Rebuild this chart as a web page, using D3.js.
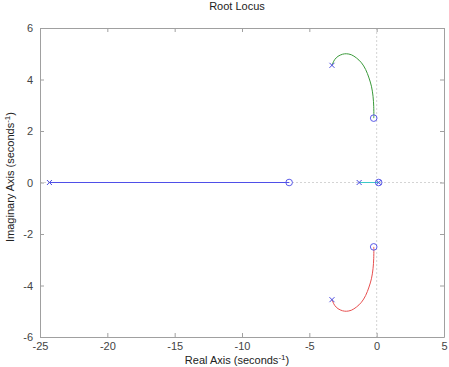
<!DOCTYPE html>
<html lang="en">
<head>
    <meta charset="UTF-8">
    <title>Root Locus</title>
    <script src="https://d3js.org/d3.v7.min.js"></script>
    <style>
        body { margin: 0; padding: 0; background: #fff; font-family: "Liberation Sans", Arial, sans-serif; }
        svg { display: block; }
        .tick text { fill: #444; font-size: 11px; }
    </style>
</head>
<body>
<svg id="chart" width="449" height="367"></svg>
<script>
    // axis limits and ticks
    const xTicks = [-25, -20, -15, -10, -5, 0, 5];
    const yTicks = [-6, -4, -2, 0, 2, 4, 6];

    // poles (x) and zeros (o) as [real, imag]
    const poles = [[-24.3, 0], [-1.3, 0], [0.15, 0], [-3.32, 4.55], [-3.32, -4.55]];
    const zeros = [[-6.5, 0], [0.15, 0], [-0.22, 2.5], [-0.22, -2.5]];

    // locus branches
    const branchBlue = [[-24.3, 0], [-6.5, 0]];
    const branchCyan = [[-1.3, 0], [0.15, 0]];
    const branchGreen = [
        [-3.32, 4.55], [-3.12, 4.77], [-2.87, 4.90], [-2.54, 4.98], [-2.25, 5.00],
        [-1.88, 4.96], [-1.51, 4.84], [-1.13, 4.65], [-0.82, 4.39], [-0.57, 4.06],
        [-0.39, 3.74], [-0.27, 3.35], [-0.22, 2.96], [-0.21, 2.60], [-0.22, 2.50]
    ];
    const branchRed = [
        [-3.32, -4.55], [-3.12, -4.77], [-2.87, -4.90], [-2.54, -4.98], [-2.25, -5.00],
        [-1.88, -4.96], [-1.51, -4.84], [-1.13, -4.65], [-0.82, -4.39], [-0.57, -4.06],
        [-0.39, -3.74], [-0.27, -3.35], [-0.22, -2.96], [-0.21, -2.60], [-0.22, -2.50]
    ];

    const svg = d3.select("#chart"),
        margin = { top: 28, right: 5, bottom: 30, left: 40 },
        width = 449 - margin.left - margin.right,
        height = 367 - margin.top - margin.bottom;

    const x = d3.scaleLinear().domain([-25, 5]).range([0, width]),
        y = d3.scaleLinear().domain([-6, 6]).range([height, 0]);

    const g = svg.append("g").attr("transform", `translate(${margin.left},${margin.top})`);

    // zero grid lines (dotted)
    g.append("line")
        .attr("x1", x(0)).attr("x2", x(0)).attr("y1", 0).attr("y2", height)
        .attr("stroke", "#d4d4d4").attr("stroke-dasharray", "2,2");
    g.append("line")
        .attr("x1", 0).attr("x2", width).attr("y1", y(0)).attr("y2", y(0))
        .attr("stroke", "#d4d4d4").attr("stroke-dasharray", "2,2");

    // axes with inward ticks on all four sides
    const styleAxis = sel => {
        sel.select(".domain").attr("stroke", "#a0a0a0");
        sel.selectAll(".tick line").attr("stroke", "#a0a0a0");
    };
    const plain = d => String(d);
    g.append("g").attr("transform", `translate(0,${height})`)
        .call(d3.axisBottom(x).tickValues(xTicks).tickSize(-4).tickPadding(5).tickFormat(plain).tickSizeOuter(0))
        .call(styleAxis)
        .selectAll("text").attr("font-family", "Liberation Sans, Arial, sans-serif");
    g.append("g")
        .call(d3.axisTop(x).tickValues(xTicks).tickSize(-4).tickFormat("").tickSizeOuter(0))
        .call(styleAxis);
    g.append("g")
        .call(d3.axisLeft(y).tickValues(yTicks).tickSize(-4).tickPadding(7).tickFormat(plain).tickSizeOuter(0))
        .call(styleAxis)
        .selectAll("text").attr("font-family", "Liberation Sans, Arial, sans-serif");
    g.append("g").attr("transform", `translate(${width},0)`)
        .call(d3.axisRight(y).tickValues(yTicks).tickSize(-4).tickFormat("").tickSizeOuter(0))
        .call(styleAxis);

    // locus branches
    const line = d3.line().x(d => x(d[0])).y(d => y(d[1])).curve(d3.curveCatmullRom);
    [[branchBlue, "#4f4fe8"], [branchGreen, "#3a9a3a"], [branchRed, "#e85050"], [branchCyan, "#3cc8c8"]]
        .forEach(([data, color]) => {
            g.append("path").datum(data)
                .attr("d", line).attr("fill", "none")
                .attr("stroke", color).attr("stroke-width", 1);
        });

    // poles
    g.selectAll(".pole").data(poles).enter().append("path")
        .attr("class", "pole")
        .attr("transform", d => `translate(${x(d[0])},${y(d[1])})`)
        .attr("d", "M-2.5,-2.5L2.5,2.5M-2.5,2.5L2.5,-2.5")
        .attr("stroke", "#4a4ae0").attr("stroke-width", 1).attr("fill", "none");

    // zeros
    g.selectAll(".zero").data(zeros).enter().append("circle")
        .attr("class", "zero")
        .attr("cx", d => x(d[0])).attr("cy", d => y(d[1])).attr("r", 3.3)
        .attr("stroke", "#5a5ae8").attr("stroke-width", 1).attr("fill", "none");

    // title and axis labels
    svg.append("text")
        .attr("x", 237).attr("y", 10)
        .attr("text-anchor", "middle").attr("font-size", 11).attr("fill", "#222")
        .text("Root Locus");

    const xl = svg.append("text")
        .attr("x", 237).attr("y", 364)
        .attr("text-anchor", "middle").attr("font-size", 11).attr("fill", "#222");
    xl.append("tspan").text("Real Axis (seconds");
    xl.append("tspan").attr("dy", -4).attr("font-size", 8).text("-1");
    xl.append("tspan").attr("dy", 4).text(")");

    const yl = svg.append("text")
        .attr("transform", "translate(14,177) rotate(-90)")
        .attr("text-anchor", "middle").attr("font-size", 11).attr("fill", "#222");
    yl.append("tspan").text("Imaginary Axis (seconds");
    yl.append("tspan").attr("dy", -4).attr("font-size", 8).text("-1");
    yl.append("tspan").attr("dy", 4).text(")");
</script>
</body>
</html>
